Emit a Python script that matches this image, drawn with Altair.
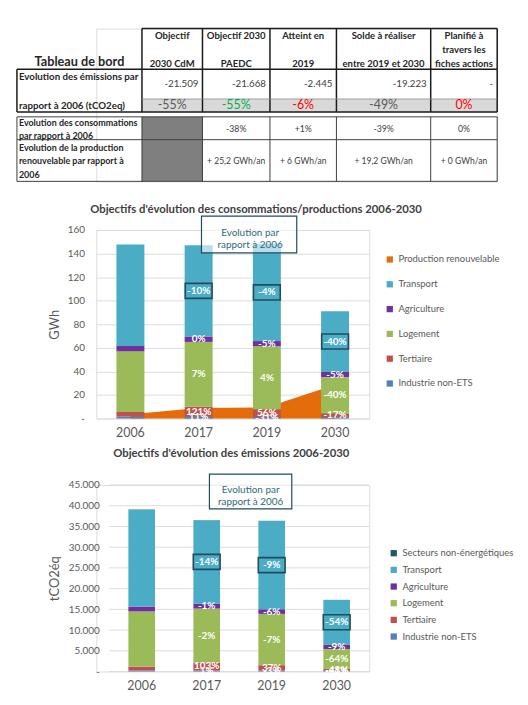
import altair as alt
import pandas as pd

FONT = "Lato"
GREY = "#595959"
DARK = "#262626"
TITLE_C = "#404040"
BOX = "#1f4e5a"

# ---------------- Tableau de bord : contenu ----------------
TABLE_TITLE = "Tableau de bord"
COL_HEADERS = [
    ["Objectif", "2030 CdM"],
    ["Objectif 2030", "PAEDC"],
    ["Atteint en", "2019"],
    ["Solde à réaliser", "entre 2019 et 2030"],
    ["Planifié à", "travers les", "fiches actions"],
]
ROW_EMISSIONS = ["Evolution des émissions par", "rapport à 2006 (tCO2eq)"]
ROW_CONSO = ["Evolution des consommations", "par rapport à 2006"]
ROW_RENOUV = ["Evolution de la production", "renouvelable par rapport à", "2006"]
EMISSIONS_TCO2 = ["-21.509", "-21.668", "-2.445", "-19.223", "-"]
EMISSIONS_PCT = ["-55%", "-55%", "-6%", "-49%", "0%"]
EMISSIONS_PCT_COLORS = ["#595959", "#00b050", "#ff0000", "#595959", "#ff0000"]
CONSO_PCT = ["-38%", "+1%", "-39%", "0%"]
RENOUV_GWH = ["+ 25,2 GWh/an", "+ 6 GWh/an", "+ 19,2 GWh/an", "+ 0 GWh/an"]

# ---------------- Graphique 1 : consommations (GWh) ----------------
YEARS = ["2006", "2017", "2019", "2030"]
CONSO_INDUSTRIE = [1.6, 1.8, 1.4, 1.2]
CONSO_TERTIAIRE = [4.0, 8.2, 6.5, 3.1]
CONSO_LOGEMENT = [51.4, 55.0, 53.4, 30.8]
CONSO_AGRICULTURE = [4.6, 4.6, 4.4, 4.4]
CONSO_TRANSPORT = [86.0, 77.4, 82.6, 51.6]
PROD_RENOUVELABLE = [3.5, 9.0, 9.5, 28.7]
LAB1_INDUSTRIE = ["", "11%", "-31%", ""]
LAB1_TERTIAIRE = ["", "121%", "56%", "-17%"]
LAB1_LOGEMENT = ["", "7%", "4%", "-40%"]
LAB1_AGRICULTURE = ["", "0%", "-5%", "-5%"]
LAB1_TRANSPORT = ["", "-10%", "-4%", "-40%"]

# ---------------- Graphique 2 : émissions (tCO2éq) ----------------
EMI_INDUSTRIE = [250, 252, 243, 148]
EMI_TERTIAIRE = [940, 1908, 1288, 489]
EMI_LOGEMENT = [13300, 13034, 12369, 4788]
EMI_AGRICULTURE = [1190, 1178, 1119, 1083]
EMI_TRANSPORT = [23420, 20141, 21312, 10773]
EMI_NON_ENERGETIQUE = [40, 40, 40, 30]
LAB2_INDUSTRIE = ["", "1%", "-3%", "-41%"]
LAB2_TERTIAIRE = ["", "103%", "37%", "-48%"]
LAB2_LOGEMENT = ["", "-2%", "-7%", "-64%"]
LAB2_AGRICULTURE = ["", "-1%", "-6%", "-9%"]
LAB2_TRANSPORT = ["", "-14%", "-9%", "-54%"]

ANNOTATION = "Evolution par\nrapport à 2006"
TITLE1 = "Objectifs d'évolution des consommations/productions 2006-2030"
TITLE2 = "Objectifs d'évolution des émissions 2006-2030"

C_PROD = "#e46c0a"
C_TRANS = "#4bacc6"
C_AGRI = "#7030a0"
C_LOG = "#9bbb59"
C_TERT = "#c0504d"
C_IND = "#4f81bd"
C_NONE = "#215968"

# =====================================================================
# Table
# =====================================================================
COL_EDGES = [0, 126, 187, 255, 322, 417, 484]
HEADER = (0, 41)
ROW1 = (41, 84)
ROW1_SPLIT = 71
ROW2 = (89, 112)
ROW3 = (112, 154)


def ccenter(c):
    return (COL_EDGES[c] + COL_EDGES[c + 1]) / 2


texts = []


def add(x, y, t, size, align, weight, color=DARK):
    texts.append(dict(x=x, y=y, t=t, size=size, align=align, weight=weight, color=color))


add(ccenter(0), 34, TABLE_TITLE, 12.8, "center", "bold")
for i, lines in enumerate(COL_HEADERS):
    ys_ = [8, 36] if len(lines) == 2 else [8, 22, 36]
    for ln, yy in zip(lines, ys_):
        add(ccenter(i + 1), yy, ln, 9.6, "center", "bold")
for ln, yy in zip(ROW_EMISSIONS, [49, 78]):
    add(2, yy, ln, 9.8, "left", "bold")
for i, v in enumerate(EMISSIONS_TCO2):
    add(COL_EDGES[i + 2] - 4, 56, v, 9.8, "right", "normal", "#404040")
for i, (v, c) in enumerate(zip(EMISSIONS_PCT, EMISSIONS_PCT_COLORS)):
    add(ccenter(i + 1), 77.5, v, 12.5, "center", "normal", c)
for ln, yy in zip(ROW_CONSO, [95, 108]):
    add(2, yy, ln, 9.0, "left", "bold")
for i, v in enumerate(CONSO_PCT):
    add(ccenter(i + 2), 101.5, v, 8.8, "center", "normal", "#404040")
for ln, yy in zip(ROW_RENOUV, [120, 134, 148]):
    add(2, yy, ln, 9.0, "left", "bold")
for i, v in enumerate(RENOUV_GWH):
    add(ccenter(i + 2), 134, v, 8.6, "center", "normal", "#404040")
tdf = pd.DataFrame(texts)

fills = pd.DataFrame([
    dict(x=COL_EDGES[1], x2=COL_EDGES[6], y=ROW1_SPLIT, y2=ROW1[1], c="#d9d9d9"),
    dict(x=COL_EDGES[1], x2=COL_EDGES[2], y=ROW2[0], y2=ROW3[1], c="#7f7f7f"),
])

lines = []
TH, TN = "#1a1a1a", "#404040"
lines.append(dict(x=COL_EDGES[1], x2=COL_EDGES[6], y=0, y2=0, c=TH, w=1.5))
for e in COL_EDGES[1:]:
    lines.append(dict(x=e, x2=e, y=HEADER[0], y2=HEADER[1], c=TH, w=1.5))
for yy in [ROW1[0], ROW1[1]]:
    lines.append(dict(x=0, x2=COL_EDGES[6], y=yy, y2=yy, c=TH, w=1.5))
for e in COL_EDGES:
    lines.append(dict(x=e, x2=e, y=ROW1[0], y2=ROW1[1], c=TH, w=1.5))
lines.append(dict(x=COL_EDGES[1], x2=COL_EDGES[6], y=ROW1_SPLIT, y2=ROW1_SPLIT, c="#8c8c8c", w=0.8))
for yy in [ROW2[0], ROW2[1], ROW3[1]]:
    lines.append(dict(x=0, x2=COL_EDGES[6], y=yy, y2=yy, c=TN, w=1))
for e in COL_EDGES:
    lines.append(dict(x=e, x2=e, y=ROW2[0], y2=ROW3[1], c=TN, w=1))
ldf = pd.DataFrame(lines)

TW = 404
TH_PLOT = ROW3[1]
xs_t = alt.Scale(domain=[COL_EDGES[6] - TW, COL_EDGES[6]], nice=False, zero=False)
ys_t = alt.Scale(domain=[0, TH_PLOT], nice=False, zero=False, reverse=True)

t_fill = alt.Chart(fills).mark_rect().encode(
    x=alt.X("x:Q", scale=xs_t, axis=None), x2="x2:Q",
    y=alt.Y("y:Q", scale=ys_t, axis=None), y2="y2:Q",
    color=alt.Color("c:N", scale=None))
t_lines = alt.Chart(ldf).mark_rule().encode(
    x=alt.X("x:Q", scale=xs_t, axis=None), x2="x2:Q",
    y=alt.Y("y:Q", scale=ys_t, axis=None), y2="y2:Q",
    color=alt.Color("c:N", scale=None), size=alt.Size("w:Q", scale=None))
t_layers = [t_fill, t_lines]
for (al, wt), sub in tdf.groupby(["align", "weight"]):
    t_layers.append(alt.Chart(sub).mark_text(align=al, fontWeight=wt, baseline="middle", font=FONT).encode(
        x=alt.X("x:Q", scale=xs_t, axis=None), y=alt.Y("y:Q", scale=ys_t, axis=None),
        text="t:N", size=alt.Size("size:Q", scale=None), color=alt.Color("color:N", scale=None)))
table = alt.layer(*t_layers).properties(width=TW, height=TH_PLOT)


# =====================================================================
# Stacked charts
# =====================================================================
def stacked(series):
    rows = []
    for j, yr in enumerate(YEARS):
        base = 0.0
        for k, (name, vals, labs) in enumerate(series):
            v = vals[j]
            rows.append(dict(annee=yr, secteur=name, valeur=v, ordre=k, mid=base + v / 2, label=labs[j]))
            base += v
    return pd.DataFrame(rows)


df1 = stacked([
    ("Industrie non-ETS", CONSO_INDUSTRIE, LAB1_INDUSTRIE),
    ("Tertiaire", CONSO_TERTIAIRE, LAB1_TERTIAIRE),
    ("Logement", CONSO_LOGEMENT, LAB1_LOGEMENT),
    ("Agriculture", CONSO_AGRICULTURE, LAB1_AGRICULTURE),
    ("Transport", CONSO_TRANSPORT, LAB1_TRANSPORT),
])
prod = pd.DataFrame({"annee": YEARS, "valeur": PROD_RENOUVELABLE, "secteur": "Production renouvelable"})

df2 = stacked([
    ("Industrie non-ETS", EMI_INDUSTRIE, LAB2_INDUSTRIE),
    ("Tertiaire", EMI_TERTIAIRE, LAB2_TERTIAIRE),
    ("Logement", EMI_LOGEMENT, LAB2_LOGEMENT),
    ("Agriculture", EMI_AGRICULTURE, LAB2_AGRICULTURE),
    ("Transport", EMI_TRANSPORT, LAB2_TRANSPORT),
    ("Secteurs non-énergétiques", EMI_NON_ENERGETIQUE, ["", "", "", ""]),
])

xaxis = alt.Axis(labelAngle=0, ticks=False, domain=False, labelPadding=8, labelFontSize=12.5,
                 labelColor=GREY, labelFont=FONT, title=None)

# ---- chart 1
W1, H1 = 275, 190
x1 = alt.Scale(domain=YEARS, paddingInner=0.59, paddingOuter=0.295)
y1 = alt.Scale(domain=[0, 160], nice=False)
yaxis1 = alt.Axis(values=list(range(0, 161, 20)), grid=True, gridColor="#dcdcdc", ticks=False, domain=False,
                  labelPadding=12, labelFontSize=10, labelColor=GREY, labelFont=FONT,
                  labelExpr="datum.value == 0 ? '-' : datum.label",
                  titleFont=FONT, titleFontSize=13, titleColor=GREY, titleFontWeight="normal", titlePadding=6)
c1 = alt.Scale(domain=["Production renouvelable", "Transport", "Agriculture", "Logement", "Tertiaire",
                       "Industrie non-ETS"],
               range=[C_PROD, C_TRANS, C_AGRI, C_LOG, C_TERT, C_IND])
leg1 = alt.Legend(orient="none", legendX=291, legendY=25, title=None, symbolType="square", symbolSize=40,
                  symbolStrokeWidth=0, labelFontSize=9.5, labelColor=GREY, labelFont=FONT, rowPadding=14,
                  padding=0, labelOffset=4)


def X1(**kw):
    return alt.X("annee:N", scale=x1, axis=xaxis, **kw)


def Y1(f):
    return alt.Y(f, scale=y1, axis=yaxis1, title="GWh")


area1 = alt.Chart(prod).mark_area(opacity=1).encode(
    x=X1(bandPosition=0.5), y=Y1("valeur:Q"),
    color=alt.Color("secteur:N", scale=c1, legend=leg1))
bars1 = alt.Chart(df1).mark_bar().encode(
    x=X1(), y=alt.Y("valeur:Q", stack="zero", scale=y1, axis=yaxis1, title="GWh"),
    color=alt.Color("secteur:N", scale=c1, legend=leg1),
    order=alt.Order("ordre:Q", sort="ascending"))
lab_df1 = df1[(df1.label != "") & (df1.secteur != "Transport")]
tr_df1 = df1[(df1.label != "") & (df1.secteur == "Transport")]
labs1 = alt.Chart(lab_df1).mark_text(color="white", fontWeight="bold", fontSize=10, font=FONT).encode(
    x=X1(), y=Y1("mid:Q"), text="label:N")
box_shape = "M-1,-0.56H1V0.56H-1Z"
boxes1 = alt.Chart(tr_df1).mark_point(shape=box_shape, size=729, filled=False, stroke=BOX, strokeWidth=1.6,
                                      opacity=1).encode(x=X1(), y=Y1("mid:Q"))
trl1 = alt.Chart(tr_df1).mark_text(color="white", fontWeight="bold", fontSize=10, font=FONT).encode(
    x=X1(), y=Y1("mid:Q"), text="label:N")
ann = pd.DataFrame({"t": [ANNOTATION]})
annr1 = alt.Chart(ann).mark_rect(fill="white", fillOpacity=0.6, stroke=BOX, strokeWidth=1.2).encode(
    x=alt.value(106), x2=alt.value(202), y=alt.value(-14), y2=alt.value(23))
annt1 = alt.Chart(ann).mark_text(lineBreak="\n", lineHeight=12.5, fontSize=10, color="#31697a", font=FONT,
                                 baseline="middle").encode(x=alt.value(155), y=alt.value(3), text="t:N")
tit1 = alt.Chart(pd.DataFrame({"t": [TITLE1]})).mark_text(fontSize=11.4, fontWeight="bold", color=TITLE_C,
                                                          font=FONT, baseline="middle").encode(
    x=alt.value(161), y=alt.value(-20), text="t:N")
chart1 = alt.layer(area1, bars1, labs1, boxes1, trl1, annr1, annt1, tit1).properties(width=W1, height=H1)

# ---- chart 2
W2, H2 = 275, 188
OFF2 = 13
x2s = alt.Scale(domain=YEARS, range=[OFF2, W2], paddingInner=0.59, paddingOuter=0.295)
y2s = alt.Scale(domain=[0, 45000], nice=False)
GRID2 = list(range(0, 45001, 5000))
yaxis2 = alt.Axis(values=GRID2, grid=False, ticks=False, domain=False, offset=-OFF2,
                  labelPadding=10, labelFontSize=10, labelColor=GREY, labelFont=FONT, format=",.0f",
                  labelExpr="datum.value == 0 ? '-' : replace(datum.label, ',', '.')",
                  titleFont=FONT, titleFontSize=13, titleColor=GREY, titleFontWeight="normal", titlePadding=7)
c2 = alt.Scale(domain=["Secteurs non-énergétiques", "Transport", "Agriculture", "Logement", "Tertiaire",
                       "Industrie non-ETS"],
               range=[C_NONE, C_TRANS, C_AGRI, C_LOG, C_TERT, C_IND])
leg2 = alt.Legend(orient="none", legendX=295, legendY=64, title=None, symbolType="square", symbolSize=40,
                  symbolStrokeWidth=0, labelFontSize=9.5, labelColor=GREY, labelFont=FONT, rowPadding=5.8,
                  padding=0, labelOffset=4)


def X2():
    return alt.X("annee:N", scale=x2s, axis=xaxis)


def Y2(f):
    return alt.Y(f, scale=y2s, axis=yaxis2, title="tCO2éq")


grid2 = alt.Chart(pd.DataFrame({"v": GRID2})).mark_rule(color="#dcdcdc", strokeWidth=1).encode(
    y=Y2("v:Q"), x=alt.value(OFF2), x2=alt.value(W2))
bars2 = alt.Chart(df2).mark_bar().encode(
    x=X2(), y=alt.Y("valeur:Q", stack="zero", scale=y2s, axis=yaxis2, title="tCO2éq"),
    color=alt.Color("secteur:N", scale=c2, legend=leg2),
    order=alt.Order("ordre:Q", sort="ascending"))
lab_df2 = df2[(df2.label != "") & (df2.secteur != "Transport")]
tr_df2 = df2[(df2.label != "") & (df2.secteur == "Transport")]
labs2 = alt.Chart(lab_df2).mark_text(color="white", fontWeight="bold", fontSize=10, font=FONT).encode(
    x=X2(), y=Y2("mid:Q"), text="label:N")
boxes2 = alt.Chart(tr_df2).mark_point(shape=box_shape, size=729, filled=False, stroke=BOX, strokeWidth=1.6,
                                      opacity=1).encode(x=X2(), y=Y2("mid:Q"))
trl2 = alt.Chart(tr_df2).mark_text(color="white", fontWeight="bold", fontSize=10, font=FONT).encode(
    x=X2(), y=Y2("mid:Q"), text="label:N")
annr2 = alt.Chart(ann).mark_rect(fill="white", fillOpacity=0.6, stroke=BOX, strokeWidth=1.2).encode(
    x=alt.value(114), x2=alt.value(197), y=alt.value(-11), y2=alt.value(24))
annt2 = alt.Chart(ann).mark_text(lineBreak="\n", lineHeight=12.5, fontSize=10, color="#31697a", font=FONT,
                                 baseline="middle").encode(x=alt.value(155.5), y=alt.value(5), text="t:N")
tit2 = alt.Chart(pd.DataFrame({"t": [TITLE2]})).mark_text(fontSize=11.4, fontWeight="bold", color=TITLE_C,
                                                          font=FONT, baseline="middle").encode(
    x=alt.value(136), y=alt.value(-31), text="t:N")
chart2 = alt.layer(grid2, bars2, labs2, boxes2, trl2, annr2, annt2, tit2).properties(width=W2, height=H2)

charts = alt.vconcat(chart1, chart2, spacing=67, bounds="flush").resolve_scale(
    color="independent", x="independent", y="independent")
chart = alt.vconcat(table, charts, spacing=49, bounds="flush").resolve_scale(
    color="independent", x="independent", y="independent").properties(
    padding={"left": 7, "top": 16, "right": 5, "bottom": 5}).configure_view(strokeWidth=0).configure(font=FONT)

chart.save("out.html", embed_options={"renderer": "svg", "actions": False})
